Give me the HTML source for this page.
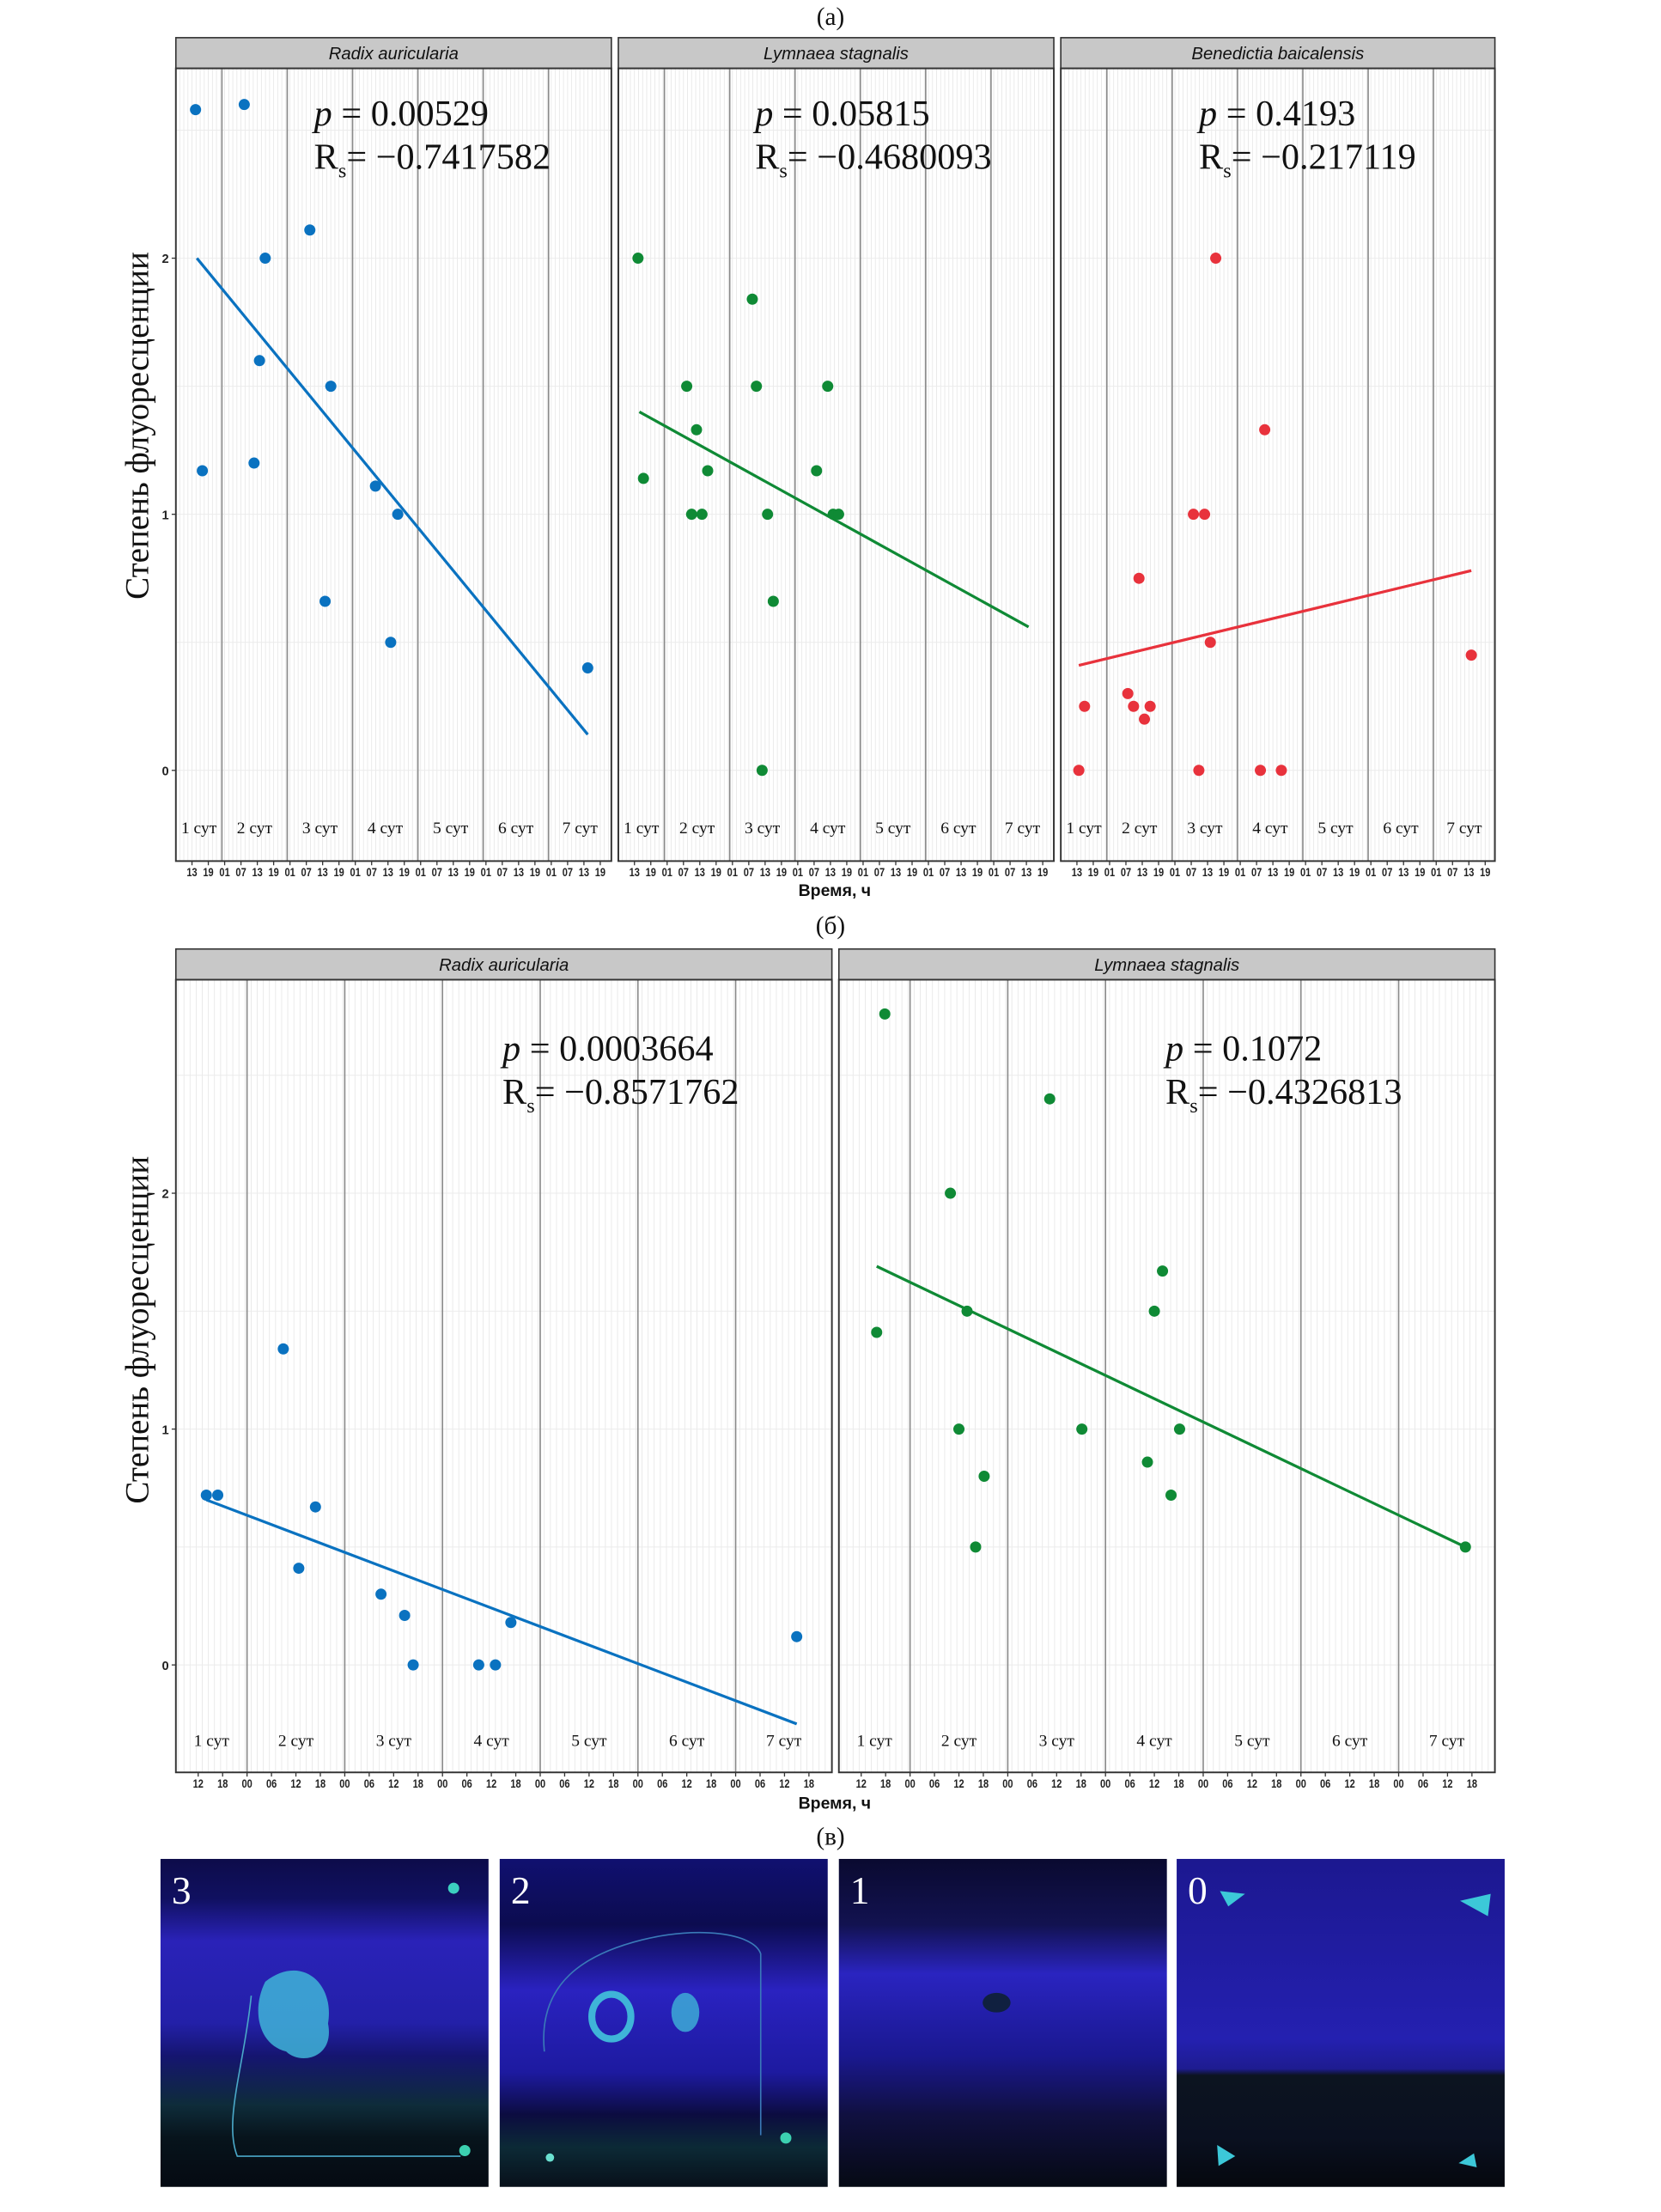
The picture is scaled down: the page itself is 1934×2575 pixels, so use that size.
<!DOCTYPE html>
<html><head><meta charset="utf-8">
<style>
html,body{margin:0;padding:0;background:#fff;}
svg{display:block;}
text{font-family:"Liberation Sans",sans-serif;}
.serif{font-family:"Liberation Serif",serif;}
</style></head>
<body>
<svg id="fig" width="1934" height="2575" viewBox="0 0 1190 1585" preserveAspectRatio="none" xmlns="http://www.w3.org/2000/svg">
<defs>
<linearGradient id="ph3" x1="0" y1="0" x2="0" y2="1">
<stop offset="0" stop-color="#0d0c4a"/><stop offset="0.12" stop-color="#101060"/><stop offset="0.25" stop-color="#2a22b8"/><stop offset="0.5" stop-color="#2320a8"/><stop offset="0.6" stop-color="#151570"/><stop offset="0.75" stop-color="#0e2c3a"/><stop offset="0.85" stop-color="#07141c"/><stop offset="1" stop-color="#050a12"/>
</linearGradient>
<linearGradient id="ph2" x1="0" y1="0" x2="0" y2="1">
<stop offset="0" stop-color="#101070"/><stop offset="0.2" stop-color="#0c0c50"/><stop offset="0.4" stop-color="#2a22c0"/><stop offset="0.65" stop-color="#1d1aa0"/><stop offset="0.78" stop-color="#0c0c40"/><stop offset="0.88" stop-color="#0c2a36"/><stop offset="1" stop-color="#08101a"/>
</linearGradient>
<linearGradient id="ph1" x1="0" y1="0" x2="0" y2="1">
<stop offset="0" stop-color="#0a0a30"/><stop offset="0.2" stop-color="#121250"/><stop offset="0.35" stop-color="#2a24c0"/><stop offset="0.6" stop-color="#1a1890"/><stop offset="0.78" stop-color="#101040"/><stop offset="1" stop-color="#060a14"/>
</linearGradient>
<linearGradient id="ph0" x1="0" y1="0" x2="0" y2="1">
<stop offset="0" stop-color="#1c1890"/><stop offset="0.55" stop-color="#2420b0"/><stop offset="0.64" stop-color="#1e1c90"/><stop offset="0.66" stop-color="#0c1420"/><stop offset="0.85" stop-color="#0a1020"/><stop offset="1" stop-color="#05080e"/>
</linearGradient>
</defs>
</svg>
<script>
// ---------- data: panel (a) ----------
const aRadixHours = [14.3,16.8,32.2,35.8,37.8,39.9,56.3,61.9,64,80.4,86,88.6,158.4];
const aRadixVals  = [2.58,1.17,2.6,1.2,1.6,2.0,2.11,0.66,1.5,1.11,0.5,1.0,0.4];
const aRadixFit   = [[14.8,2.0],[158.4,0.14]];
const aLymHours = [14.3,16.3,32.2,34,35.8,37.8,39.9,56.3,57.8,59.9,61.9,64,79.9,84,86,88];
const aLymVals  = [2.0,1.14,1.5,1.0,1.33,1.0,1.17,1.84,1.5,0,1.0,0.66,1.17,1.5,1.0,1.0];
const aLymFit   = [[14.8,1.4],[157.8,0.56]];
const aBenHours = [13.7,15.8,31.7,33.8,35.8,37.8,39.9,55.8,57.8,59.9,62,64,80.4,82,88.1,157.9];
const aBenVals  = [0,0.25,0.3,0.25,0.75,0.2,0.25,1.0,0,1.0,0.5,2.0,0,1.33,0,0.45];
const aBenFit   = [[13.7,0.41],[157.9,0.78]];
const aTickLabels = ["13","19","01","07","13","19","01","07","13","19","01","07","13","19","01","07","13","19","01","07","13","19","01","07","13","19","01","07","13","19"];
const aTickHours = [13,19,25,31,37,43,49,55,61,67,73,79,85,91,97,103,109,115,121,127,133,139,145,151,157,163];
// ---------- data: panel (б) ----------
const bRadixHours = [14,16.8,32.9,36.7,40.8,56.9,62.7,64.8,80.9,85,88.8,159];
const bRadixVals  = [0.72,0.72,1.34,0.41,0.67,0.3,0.21,0,0,0,0.18,0.12];
const bRadixFit   = [[14,0.7],[159,-0.25]];
const bLymHours = [15.8,17.8,33.9,36,38,40.1,42.2,58.3,66.2,82.3,84,86,88.1,90.2,160.4];
const bLymVals  = [1.41,2.76,2.0,1.0,1.5,0.5,0.8,2.4,1.0,0.86,1.5,1.67,0.72,1.0,0.5];
const bLymFit   = [[15.8,1.69],[160.4,0.5]];
const bTickLabels = ["12","18","00","06","12","18","00","06","12","18","00","06","12","18","00","06","12","18","00","06","12","18","00","06","12","18"];
const bTickHours = [12,18,24,30,36,42,48,54,60,66,72,78,84,90,96,102,108,114,120,126,132,138,144,150,156,162];
const yTicks = [0,1,2];
const dayLabels = ["1 сут","2 сут","3 сут","4 сут","5 сут","6 сут","7 сут"];

const NS="http://www.w3.org/2000/svg";
const svg=document.getElementById('fig');
function mk(tag,attrs,parent,txt){const e=document.createElementNS(NS,tag);for(const k in attrs)e.setAttribute(k,attrs[k]);if(txt!==undefined)e.textContent=txt;(parent||svg).appendChild(e);return e;}

function panel(o){
  const g=mk('g',{});
  
  
  const xs=h=>o.x0+(h-o.h0)*o.pxh;
  const ys=v=>o.y0-v*o.unit;
  // strip
  const st=mk('rect',{x:o.L,y:o.sTop,width:o.R-o.L,height:o.pTop-o.sTop,fill:'#c8c8c8',stroke:'#333','stroke-width':1},g);
  
  
  const stt=mk('text',{x:(o.L+o.R)/2,y:o.sTop+(o.pTop-o.sTop)/2+4.5,'text-anchor':'middle','font-size':12.5,'font-style':'italic',fill:'#111'},g,o.title);
  
  
  // panel bg
  mk('rect',{x:o.L,y:o.pTop,width:o.R-o.L,height:o.pBot-o.pTop,fill:'#fff'},g);
  // minor vertical grid
  for(let h=Math.ceil(o.hL);h<=o.hR;h+=1.5){const x=xs(h);if(x>o.L&&x<o.R)mk('line',{x1:x,x2:x,y1:o.pTop,y2:o.pBot,stroke:'#e6e6e6','stroke-width':0.5},g);}
  // horizontal grid
  for(let v=0;v<=2.5;v+=0.5){mk('line',{x1:o.L,x2:o.R,y1:ys(v),y2:ys(v),stroke:'#ebebeb','stroke-width':0.6},g);}
  // day boundaries
  for(let d=1;d<7;d++){const x=xs(24*d);mk('line',{x1:x,x2:x,y1:o.pTop,y2:o.pBot,stroke:'#8a8a8a','stroke-width':1},g);}
  // day labels
  for(let d=0;d<7;d++){
    const a=Math.max(xs(24*d),o.L), b=Math.min(xs(24*d+24),o.R);
    const t=mk('text',{x:(a+b)/2,y:o.dayY,'text-anchor':'middle','font-size':o.dayFs,class:'serif',fill:'#111'},g,dayLabels[d]);
    
    
  }
  // frame
  mk('rect',{x:o.L,y:o.pTop,width:o.R-o.L,height:o.pBot-o.pTop,fill:'none',stroke:'#333','stroke-width':1.2},g);
  // x ticks
  o.tH.forEach((h,i)=>{const x=xs(h);if(x<o.L||x>o.R)return;
    mk('line',{x1:x,x2:x,y1:o.pBot,y2:o.pBot+3,stroke:'#333','stroke-width':0.8},g);
    const t=mk('text',{x:x,y:o.pBot+11,'text-anchor':'middle','font-size':8.5,'font-weight':'bold',fill:'#222',transform:`translate(${x},0) scale(0.8,1) translate(${-x},0)`},g,o.tL[i]);
    
    
  });
  // y ticks
  if(o.first){yTicks.forEach(v=>{mk('line',{x1:o.L-3,x2:o.L,y1:ys(v),y2:ys(v),stroke:'#333','stroke-width':0.8},g);
    const t=mk('text',{x:o.L-5,y:ys(v)+3.5,'text-anchor':'end','font-size':9,'font-weight':'bold',fill:'#222'},g,String(v));
    
    });}
  // fit line
  const fl=mk('line',{x1:xs(o.fit[0][0]),y1:ys(o.fit[0][1]),x2:xs(o.fit[1][0]),y2:ys(o.fit[1][1]),stroke:o.col,'stroke-width':2},g);
  
  
  // points
  o.hrs.forEach((h,i)=>{const c=mk('circle',{cx:xs(h),cy:ys(o.vals[i]),r:4,fill:o.col},g);
    
    });
  // stats
  const s1=mk('text',{x:o.sx,y:o.sy,'font-size':26,class:'serif',fill:'#111'},g);
  
  
  mk('tspan',{'font-style':'italic'},s1,'p');mk('tspan',{},s1,' = '+o.p);
  const s2=mk('text',{x:o.sx,y:o.sy+31,'font-size':26,class:'serif',fill:'#111'},g);
  
  
  mk('tspan',{},s2,'R');mk('tspan',{'font-size':15,dy:6},s2,'s');mk('tspan',{dy:-6},s2,'= −'+o.r);
}
const A={sTop:27,pTop:49,pBot:617,y0:552,unit:183.5,pxh:1.95,h0:24,dayY:597,dayFs:12,tH:aTickHours,tL:aTickLabels,sy:90};
panel(Object.assign({},A,{name:'panel-a-radix',title:'Radix auricularia',L:126,R:438,x0:159,hL:7,hR:167,hrs:aRadixHours,vals:aRadixVals,fit:aRadixFit,col:'#0a72c0',first:true,sx:225,p:'0.00529',r:'0.7417582'}));
panel(Object.assign({},A,{name:'panel-a-lymnaea',title:'Lymnaea stagnalis',L:443,R:755,x0:476,hL:7,hR:167,hrs:aLymHours,vals:aLymVals,fit:aLymFit,col:'#0f8a35',first:false,sx:541,p:'0.05815',r:'0.4680093'}));
panel(Object.assign({},A,{name:'panel-a-benedictia',title:'Benedictia baicalensis',L:760,R:1071,x0:793,hL:7,hR:167,hrs:aBenHours,vals:aBenVals,fit:aBenFit,col:'#e8323c',first:false,sx:859,p:'0.4193',r:'0.217119'}));
const B={sTop:680,pTop:702,pBot:1270,y0:1193,unit:169,pxh:2.917,h0:24,dayY:1251,dayFs:12,tH:bTickHours,tL:bTickLabels,sy:760};
panel(Object.assign({},B,{name:'panel-b-radix',title:'Radix auricularia',L:126,R:596,x0:177,hL:7,hR:167,hrs:bRadixHours,vals:bRadixVals,fit:bRadixFit,col:'#0a72c0',first:true,sx:360,p:'0.0003664',r:'0.8571762'}));
panel(Object.assign({},B,{name:'panel-b-lymnaea',title:'Lymnaea stagnalis',L:601,R:1071,x0:652,hL:7,hR:167,hrs:bLymHours,vals:bLymVals,fit:bLymFit,col:'#0f8a35',first:false,sx:835,p:'0.1072',r:'0.4326813'}));

function label(txt,x,y,fs,name,extra){const t=mk('text',Object.assign({x:x,y:y,'text-anchor':'middle','font-size':fs,fill:'#111'},extra||{}),svg,txt);
  
  return t;}
label('(a)',595,18,18,'label-a',{class:'serif'});
label('(б)',595,669,18,'label-b',{class:'serif'});
label('(в)',595,1322,18,'label-v',{class:'serif'});
label('Время, ч',598,642,12,'x-axis-title-a',{'font-weight':'bold'});
label('Время, ч',598,1296,12,'x-axis-title-b',{'font-weight':'bold'});
label('Степень флуоресценции',0,0,24,'y-axis-title-a',{class:'serif',transform:'translate(106,305) rotate(-90)'});
label('Степень флуоресценции',0,0,24,'y-axis-title-b',{class:'serif',transform:'translate(106,953) rotate(-90)'});

// photos
const photoX=[115,358,601,843];
const photoLab=['3','2','1','0'];
const photoGrad=['ph3','ph2','ph1','ph0'];
photoX.forEach((x,i)=>{
  const g=mk('g',{});
  
  
  mk('rect',{x:x,y:1332,width:235,height:235,fill:'url(#'+photoGrad[i]+')'},g);
  const t=mk('text',{x:x+8,y:1364,'font-size':28,class:'serif',fill:'#fff'},g,photoLab[i]);
  
  
});
// photo details
mk('path',{d:'M190,1420 C215,1400 240,1420 235,1450 C240,1475 215,1480 205,1470 C185,1465 180,1440 190,1420Z',fill:'#3fb4d8',opacity:0.85});
mk('path',{d:'M180,1430 C175,1480 160,1520 170,1545 L330,1545',fill:'none',stroke:'#4aa8c8','stroke-width':1});
mk('ellipse',{cx:438,cy:1445,rx:14,ry:16,fill:'none',stroke:'#3fb4d8','stroke-width':5});
mk('ellipse',{cx:491,cy:1442,rx:10,ry:14,fill:'#3fb4d8',opacity:0.8});
mk('path',{d:'M390,1470 C385,1420 420,1400 460,1390 C500,1380 540,1385 545,1400 L545,1530',fill:'none',stroke:'#3a7ab8','stroke-width':1});
mk('ellipse',{cx:714,cy:1435,rx:10,ry:7,fill:'#102040'});
mk('polygon',{points:'874,1355 892,1357 880,1366',fill:'#3cc8d8'});
mk('polygon',{points:'1046,1362 1068,1357 1066,1373',fill:'#3cc8d8'});
mk('polygon',{points:'872,1537 885,1545 873,1552',fill:'#3cc8d8'});
mk('polygon',{points:'1045,1550 1056,1543 1058,1553',fill:'#3cc8d8'});
mk('circle',{cx:325,cy:1353,r:4,fill:'#3cd0c0'});
mk('circle',{cx:333,cy:1541,r:4,fill:'#3cd0b0'});
mk('circle',{cx:563,cy:1532,r:4,fill:'#3cd0b0'});
mk('circle',{cx:394,cy:1546,r:3,fill:'#6ae0d0'});
</script>
</body></html>
